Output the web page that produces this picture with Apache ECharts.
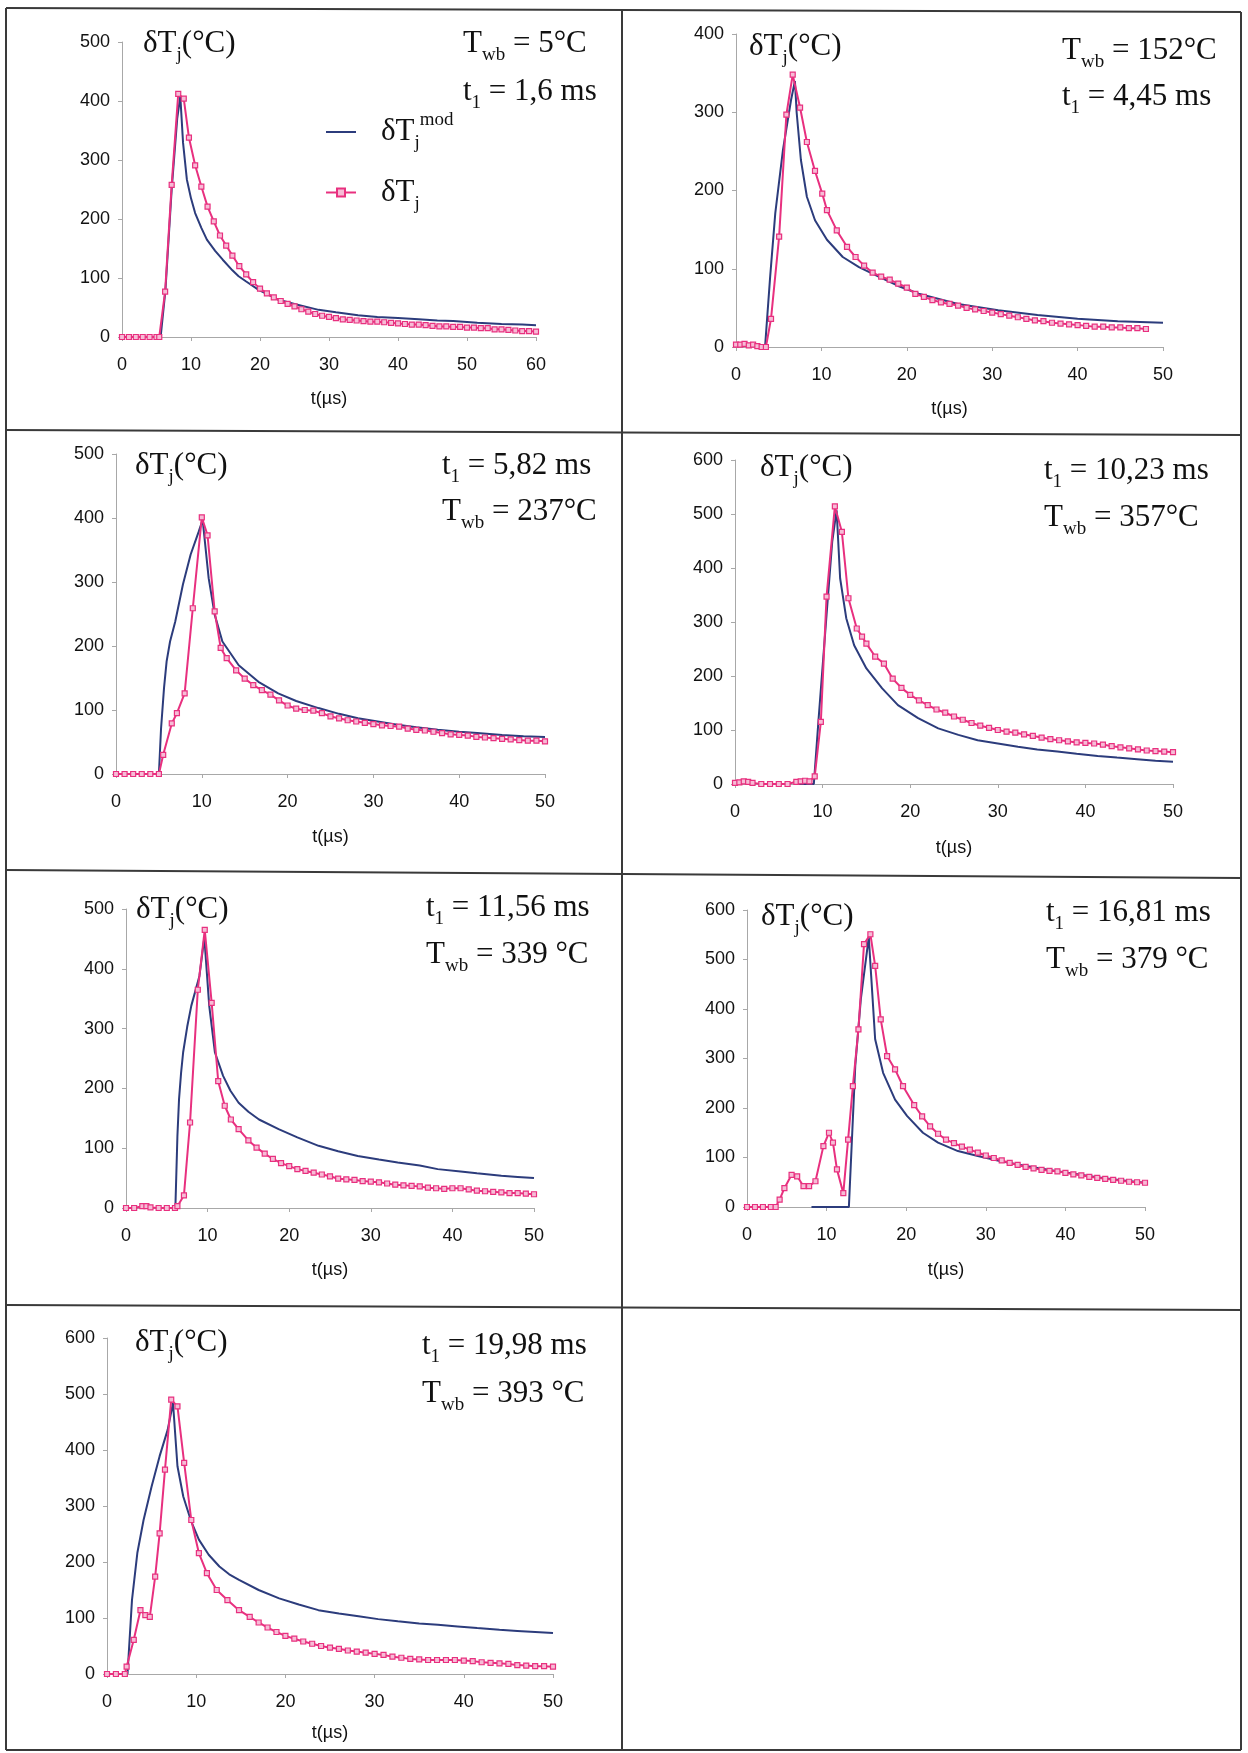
<!DOCTYPE html>
<html><head><meta charset="utf-8">
<script src="https://cdn.jsdelivr.net/npm/echarts@6/dist/echarts.min.js"></script>
<style>html,body{margin:0;padding:0;background:#fff}#c{width:1248px;height:1753px}</style>
</head><body><div id="c"></div>
<script>
// ---------- DATA ----------
// Panel 1  (Twb = 5°C, t1 = 1,6 ms)
const p1MeasT = [0,1,2,3,4,5,5.4,6.25,7.2,8.15,8.95,9.7,10.6,11.5,12.4,13.3,14.2,15.1,16,17,18,19,20,21,22,23,24,25,26,27,28,29,30,31,32,33,34,35,36,37,38,39,40,41,42,43,44,45,46,47,48,49,50,51,52,53,54,55,56,57,58,59,60];
const p1Meas  = [0,0,0,0,0,0,0,77,258,412,404,338,291,255,221,196,172,155,138,120,106,93,82,74,67,61,56,52,47,43,39,36,34,32,30,29,28,27,26,26,25,24,23,22,21,21,20,19,18,18,17,17,16,16,15,15,13,13,12,11,10,10,9];
const p1ModT  = [5.6,6.3,7.2,8.0,8.45,8.85,9.4,10,10.6,11.5,12.3,13.5,14.6,16,16.9,18,19.8,22.7,25,28.5,31,34.2,37,40,43,45.7,48,51.5,55,58,60];
const p1Mod   = [0,80,250,370,408,329,267,235,210,185,165,146,131,113,103,94,80,63,56,46,42,37,34,32,30,28,27,24,22,21,20];
// Panel 2  (Twb = 152°C, t1 = 4,45 ms)
const p2MeasT = [0,0.5,1,1.5,2,2.5,3,3.5,4.1,5.05,5.9,6.64,7.5,8.3,9.25,10.1,10.65,11.8,13,14,15,16,17,18,19,20,21,22,23,24,25,26,27,28,29,30,31,32,33,34,35,36,37,38,39,40,41,42,43,44,45,46,47,48];
const p2Meas  = [3,3,4,2,3,1,0,0,36,141,297,348,306,262,225,196,175,149,128,115,104,95,90,86,81,76,68,64,60,57,55,53,50,48,46,44,42,40,38,36,34,33,31,30,29,28,27,26,26,25,25,24,24,23];
const p2ModT  = [3.4,4.0,4.6,5.5,6.45,6.9,7.1,7.6,8.3,9.25,10.65,12.5,14.4,16.7,19,21.4,26,30.7,35.3,40,44.7,50];
const p2Mod   = [0,90,171,252,316,340,300,239,192,162,137,115,102,90,78,68,55,47,41,36,33,31];
// Panel 3  (t1 = 5,82 ms, Twb = 237°C)
const p3MeasT = [0,1,2,3,4,5,5.5,6.5,7.1,8,8.95,10,10.67,11.5,12.2,12.9,14,15,16,17,18,19,20,21,22,23,24,25,26,27,28,29,30,31,32,33,34,35,36,37,38,39,40,41,42,43,44,45,46,47,48,49,50];
const p3Meas  = [0,0,0,0,0,0,30,79,95,126,259,401,373,254,197,181,162,149,139,131,124,115,107,102,100,99,95,90,87,84,82,80,78,76,75,74,71,69,68,66,64,62,61,60,58,57,56,55,54,53,52,52,51];
const p3ModT  = [5,5.25,5.6,5.9,6.3,6.9,7.8,8.7,9.65,10.1,10.8,11.5,12.4,14.3,16.6,18.9,21,23.6,26,28.2,30.5,32.8,35,37.5,40,42.1,45,47.5,50];
const p3Mod   = [0,71,135,176,207,238,296,343,379,397,306,249,207,170,144,126,114,103,94,87,82,77,73,69,66,64,61,59,58];
// Panel 4  (t1 = 10,23 ms, Twb = 357°C)
const p4MeasT = [0,0.5,1,1.5,2,3,4,5,6,7,7.5,8,8.5,9.1,9.8,10.45,11.4,12.2,12.95,13.9,14.5,15,16,17,18,19,20,21,22,23,24,25,26,27,28,29,30,31,32,33,34,35,36,37,38,39,40,41,42,43,44,45,46,47,48,49,50];
const p4Meas  = [2,3,5,4,2,0,0,0,0,4,5,6,5,14,115,347,514,467,344,288,273,260,236,223,195,178,165,155,146,138,132,125,119,113,108,104,100,97,95,92,89,86,83,81,79,77,76,75,73,70,68,66,64,62,61,60,59];
const p4ModT  = [7,9,9.55,10.45,11.1,11.6,12,12.7,13.6,15,16.8,18.6,20.9,23.2,25.5,27.7,30,32.3,34.5,36.8,39,41.4,43.6,45.9,48,50];
const p4Mod   = [0,0,122,313,449,507,381,307,257,214,177,146,122,103,91,81,75,69,64,60,56,52,49,46,43,41];
// Panel 5  (t1 = 11,56 ms, Twb = 339 °C)
const p5MeasT = [0,1,2,2.5,3,4,5,6,6.3,7.1,7.85,8.8,9.65,10.5,11.3,12.1,12.85,13.8,15,16,17,18,19,20,21,22,23,24,25,26,27,28,29,30,31,32,33,34,35,36,37,38,39,40,41,42,43,44,45,46,47,48,49,50];
const p5Meas  = [0,0,3,3,1,0,0,0,3,21,143,365,465,343,212,171,148,132,113,101,91,82,75,70,65,62,59,56,53,49,48,47,45,44,43,41,39,38,37,36,34,33,32,33,33,31,29,28,27,26,25,25,24,23];
const p5ModT  = [6.05,6.3,6.5,6.75,7,7.5,8,9,9.6,10.2,10.9,11.9,12.8,13.8,15,16.3,18.7,21,23.6,26,28.4,31,33.3,36,38.2,41,43,46,48,50];
const p5Mod   = [0,120,182,226,260,303,338,388,452,338,260,221,196,176,161,148,132,118,104,95,87,81,76,71,65,61,58,54,52,50];
// Panel 6  (t1 = 16,81 ms, Twb = 379 °C)
const p6MeasT = [0,1,2,3,3.6,4.1,4.7,5.6,6.3,7.1,7.8,8.6,9.6,10.3,10.8,11.3,12.1,12.7,13.3,14,14.7,15.5,16.1,16.8,17.6,18.6,19.6,21,22,23,24,25,26,27,28,29,30,31,32,33,34,35,36,37,38,39,40,41,42,43,44,45,46,47,48,49,50];
const p6Meas  = [0,0,0,0,0,15,38,65,62,42,42,52,123,150,130,76,28,136,244,359,531,551,487,379,305,278,244,206,183,163,148,136,129,122,116,110,104,99,94,89,85,81,78,75,73,72,69,66,64,61,59,57,55,53,51,50,49];
const p6ModT  = [8.1,12.8,13.6,14.3,15.3,15.6,16.1,17.1,18.6,20.1,22.1,24,26.5,29,31.5,34,36.5,39,41.5,44,47,50];
const p6Mod   = [0,0,285,420,545,467,339,271,217,184,150,130,113,103,94,86,79,72,66,60,54,49];
// Panel 7  (t1 = 19,98 ms, Twb = 393 °C)
const p7MeasT = [0,1,2,2.2,3,3.75,4.3,4.8,5.4,5.9,6.5,7.2,7.9,8.65,9.45,10.3,11.2,12.3,13.5,14.8,16,17,18,19,20,21,22,23,24,25,26,27,28,29,30,31,32,33,34,35,36,37,38,39,40,41,42,43,44,45,46,47,48,49,50];
const p7Meas  = [0,0,0,13,61,114,105,102,174,251,365,490,478,377,275,216,180,150,132,114,102,92,83,75,68,63,58,54,50,47,45,42,40,38,36,34,31,29,27,26,25,25,25,25,24,23,21,20,19,18,16,15,14,14,13];
const p7ModT  = [2.3,2.8,3.4,4.1,5,5.9,6.8,7.4,7.9,8.55,9.45,10.3,11.4,12.6,13.7,14.8,17,19.3,21.5,23.7,26,28.2,30.4,32.6,35,37.1,39.3,41.5,44,46,48,50];
const p7Mod   = [0,132,216,275,335,389,436,484,371,317,272,240,213,192,178,168,150,135,124,114,108,103,98,94,90,88,85,82,79,77,75,73];

// Axis ranges and annotation texts
const xMaxes = [60,50,50,50,50,50,50];
const yMaxes = [500,400,500,600,500,600,600];
const twbTexts = ['5°C','152°C','237°C','357°C','339 °C','379 °C','393 °C'];
const t1Texts  = ['1,6 ms','4,45 ms','5,82 ms','10,23 ms','11,56 ms','16,81 ms','19,98 ms'];
const yLabel = 'δT';
const xName = 't(µs)';

// ---------- LAYOUT ----------
const grids = [
  {left:122, top:42,   width:414, height:295},
  {left:736, top:34,   width:427, height:313},
  {left:116, top:454,  width:429, height:320},
  {left:735, top:460,  width:438, height:324},
  {left:126, top:909,  width:408, height:299},
  {left:747, top:910,  width:398, height:297},
  {left:107, top:1338, width:446, height:336}
];
const nameGaps = [53,53,54,55,53,54,50];
const ann = [
  {d:[143,44],  a:[463,44],  b:[463,92],  order:'tw'},
  {d:[749,47],  a:[1062,51], b:[1062,97], order:'tw'},
  {d:[135,466], a:[442,466], b:[442,512], order:'t1'},
  {d:[760,468], a:[1044,471],b:[1044,518],order:'t1'},
  {d:[136,910], a:[426,908], b:[426,955], order:'t1'},
  {d:[761,917], a:[1046,913],b:[1046,960],order:'t1'},
  {d:[135,1343],a:[422,1346],b:[422,1394],order:'t1'}
];

const BLUE = '#2c3c7c', PINK = '#e8307f';
const SERIF = 'Liberation Serif', SANS = 'Liberation Sans';
const measT = [p1MeasT,p2MeasT,p3MeasT,p4MeasT,p5MeasT,p6MeasT,p7MeasT];
const meas  = [p1Meas,p2Meas,p3Meas,p4Meas,p5Meas,p6Meas,p7Meas];
const modT  = [p1ModT,p2ModT,p3ModT,p4ModT,p5ModT,p6ModT,p7ModT];
const mod   = [p1Mod,p2Mod,p3Mod,p4Mod,p5Mod,p6Mod,p7Mod];
const zip = (t,v) => t.map((x,i)=>[x,v[i]]);

const rich = {
  m: {fontFamily:SERIF, fontSize:31, lineHeight:42, color:'#111', verticalAlign:'middle'},
  s: {fontFamily:SERIF, fontSize:19, lineHeight:19, color:'#111', verticalAlign:'bottom'},
  u: {fontFamily:SERIF, fontSize:19, lineHeight:19, color:'#111', verticalAlign:'top'},
  lm:{fontFamily:SERIF, fontSize:31, lineHeight:42, color:'#111', verticalAlign:'middle', padding:[0,0,0,20]}
};

const xAxis = [], yAxis = [], series = [], graphic = [];
grids.forEach((g,i)=>{
  xAxis.push({type:'value', gridIndex:i, min:0, max:xMaxes[i], interval:10,
    name:xName, nameLocation:'middle', nameGap:nameGaps[i],
    nameTextStyle:{fontFamily:SANS, fontSize:18, color:'#111'},
    axisLine:{show:true, lineStyle:{color:'#a8a8a8', width:1}},
    axisTick:{show:true, length:4, lineStyle:{color:'#a8a8a8'}},
    axisLabel:{margin:19, fontFamily:SANS, fontSize:18, color:'#111'},
    splitLine:{show:false}});
  yAxis.push({type:'value', gridIndex:i, min:0, max:yMaxes[i], interval:100,
    axisLine:{show:true, lineStyle:{color:'#a8a8a8', width:1}},
    axisTick:{show:true, length:4, lineStyle:{color:'#a8a8a8'}},
    axisLabel:{margin:12, fontFamily:SANS, fontSize:18, color:'#111'},
    splitLine:{show:false}});
  series.push({type:'line', name:'mod', xAxisIndex:i, yAxisIndex:i,
    data:zip(modT[i],mod[i]), symbol:'none', z:2,
    lineStyle:{color:BLUE, width:2}, itemStyle:{color:BLUE}});
  series.push({type:'line', name:'meas', xAxisIndex:i, yAxisIndex:i,
    data:zip(measT[i],meas[i]), symbol:'rect', symbolSize:5, showAllSymbol:true, z:3,
    lineStyle:{color:PINK, width:2},
    itemStyle:{color:'#f6bcd6', borderColor:PINK, borderWidth:1.2}});

  const a = ann[i];
  const twb = '{m|T}{s|wb}{m| = ' + twbTexts[i] + '}';
  const t1  = '{m|t}{s|1}{m| = ' + t1Texts[i] + '}';
  const lines = a.order==='tw' ? [twb,t1] : [t1,twb];
  const mk = (x,y,text) => ({type:'text', x:x, y:y, z:50, silent:true,
    style:{text:text, rich:rich, align:'left', verticalAlign:'middle',
      textAlign:'left', textVerticalAlign:'middle', fill:'#111'}});
  graphic.push(mk(a.d[0], a.d[1], '{m|' + yLabel + '}{s|j}{m|(°C)}'));
  graphic.push(mk(a.a[0], a.a[1], lines[0]));
  graphic.push(mk(a.b[0], a.b[1], lines[1]));
});

// table frame
const frame = [
  [6,8,1241,12], [6,430,1241,435], [6,870,1241,878], [6,1305,1241,1310], [6,1750,1241,1750],
  [6,8,6,1750], [1241,12,1241,1750], [622,9,622,1750]
];
frame.forEach(f=>graphic.push({type:'line', z:1, silent:true,
  shape:{x1:f[0],y1:f[1],x2:f[2],y2:f[3]}, style:{stroke:'#3a3a3a', lineWidth:2}}));

const chart = echarts.init(document.getElementById('c'));
chart.setOption({
  backgroundColor:'#ffffff',
  animation:false,
  grid: grids.map(g=>Object.assign({containLabel:false}, g)),
  xAxis, yAxis, series, graphic,
  legend:{data:[{name:'mod', itemStyle:{opacity:0}}, {name:'meas'}],
    orient:'vertical', left:320, top:106, itemGap:24,
    itemWidth:30, itemHeight:10, selectedMode:false,
    formatter: n => n==='mod' ? '{lm|δT}{s|j}{u|mod}' : '{lm|δT}{s|j}',
    textStyle:{rich:rich}}
});
</script></body></html>
